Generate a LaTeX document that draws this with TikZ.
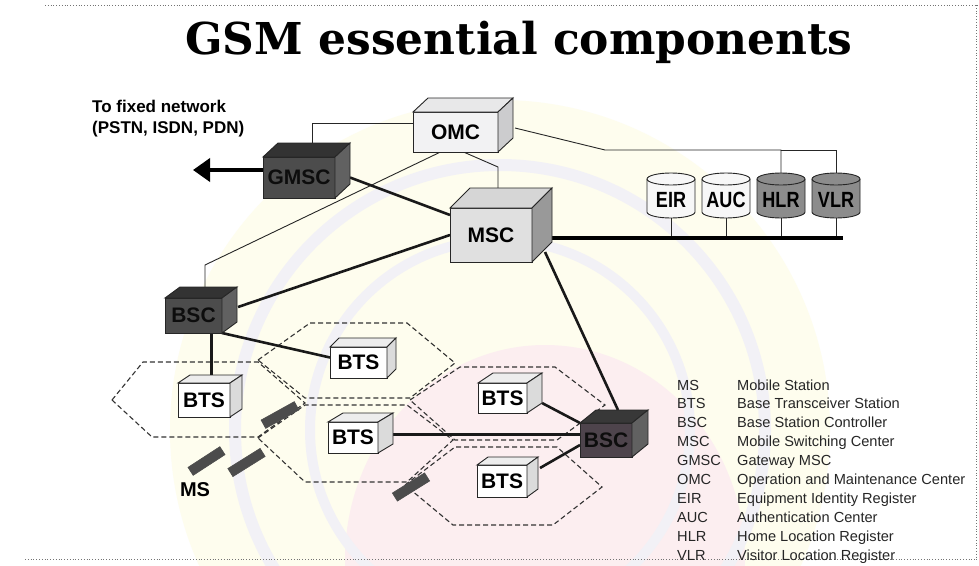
\documentclass[tikz,border=0pt]{standalone}
\usepackage{fontspec}
\setmainfont{Liberation Sans}
\newfontfamily\titlefont{DejaVu Serif}
\usetikzlibrary{arrows.meta}
\pgfdeclarelayer{wm}
\pgfdeclarelayer{bg}
\pgfsetlayers{wm,bg,main}
\definecolor{wmyellow}{HTML}{FEFDEE}
\definecolor{wmpink}{HTML}{FCEEF0}
\definecolor{wmring}{HTML}{F2F1F6}
\definecolor{bscrfill}{HTML}{4E444C}
\tikzset{
  box/.style={draw=black!85, line width=0.9pt, inner sep=0pt, outer sep=0pt,
    font=\bfseries\fontsize{21}{21}\selectfont},
  lite front/.style={fill=white},
  lite top/.style={fill=black!7},
  lite side/.style={fill=black!14},
  omcs front/.style={fill=blue!3!black!5},
  omcs top/.style={fill=blue!3!black!9},
  omcs side/.style={fill=blue!3!black!20},
  mscs front/.style={fill=black!12},
  mscs top/.style={fill=black!16},
  mscs side/.style={fill=black!40},
  dark front/.style={fill=black!70, text=black!95},
  dark top/.style={fill=black!80},
  dark side/.style={fill=black!62},
  purp front/.style={fill=bscrfill, text=black!95},
  purp top/.style={fill=black!78},
  purp side/.style={fill=black!62},
  cyl/.style={draw=black!85, line width=0.9pt},
  cyllite/.style={fill=black!3},
  cyldark/.style={fill=black!45},
  thinlink/.style={draw=black!85, line width=0.9pt},
  thicklink/.style={draw=black!90, line width=2.6pt},
  buslink/.style={draw=black, line width=3.6pt},
  hexcell/.style={draw=black!80, line width=1.1pt, dash pattern=on 5pt off 3pt},
  phone/.style={draw=black!70, fill=black!70, line width=0.6pt, minimum width=38, minimum height=9.5, inner sep=0pt},
  legend/.style={anchor=base west, font=\fontsize{14.6}{15}\selectfont, inner sep=0pt, text=black!85},
}
\newcommand\boxthreed[9]{%
  \node[box, #8 front, minimum width=#4, minimum height=#5] (#1) at (#2,#3) {#9};
  \draw[box, #8 top] (#1.north west) -- ++(#6,-#7) -- ++(#4,0) -- (#1.north east) -- cycle;
  \draw[box, #8 side] (#1.north east) -- ++(#6,-#7) -- ++(0,#5) -- (#1.south east) -- cycle;
}
\newcommand\dbcyl[4]{%
  \node[minimum width=48, minimum height=45, inner sep=0pt, outer sep=0pt] (#1) at (#2,195.5) {};
  \draw[cyl, #3] (#2-24,179) -- (#2-24,212) arc[start angle=180, end angle=0, x radius=24, y radius=6]
     -- (#2+24,179) arc[start angle=0, end angle=-180, x radius=24, y radius=6] -- cycle;
  \draw[cyl] (#2-24,179) arc[start angle=180, end angle=0, x radius=24, y radius=6];
  \node[font=\bfseries\fontsize{22}{22}\selectfont, inner sep=0pt] (#1lbl) at (#2,200) {\scalebox{0.82}[1]{#4}};
}
\begin{document}
\begin{tikzpicture}[x=1pt, y=-1pt]
\useasboundingbox (0,0) rectangle (979,565);

% watermark
\begin{pgfonlayer}{wm}
\fill[white] (0,0) rectangle (979,565);
\begin{scope}
\clip (0,0) rectangle (979,565);
\fill[wmyellow] (500,430) circle (330);
\fill[wmpink] (545,560) ellipse (200 and 215);
\draw[wmring, line width=12pt] (500,430) circle (265);
\draw[wmring, line width=10pt] (500,430) circle (190);
\end{scope}
\end{pgfonlayer}

% borders
\draw[black!55, line width=0.8pt, dotted] (45,5) -- (979,5);
\draw[black!55, line width=0.8pt, dotted] (976,5) -- (976,562);
\draw[black!55, line width=0.8pt, dotted] (25,559) -- (976,559);

% title
\node[anchor=base, inner sep=0pt] (title) at (519,54)
  {\resizebox{667pt}{!}{\titlefont\bfseries\fontsize{40}{40}\selectfont GSM essential components}};

% fixed network text
\node[anchor=base west, inner sep=0pt, align=left, font=\bfseries\fontsize{17}{21}\selectfont] (fixed) at (92,133)
  {To fixed network\\(PSTN, ISDN, PDN)};

% boxes
\boxthreed{omc}{455.5}{132}{85}{40}{15}{14}{omcs}{OMC}
\boxthreed{gmsc}{299}{177.5}{72}{41}{15}{14}{dark}{GMSC}
\boxthreed{msc}{491}{235}{82}{54}{20}{20}{mscs}{MSC}
\boxthreed{bscl}{193.5}{315.5}{57}{35}{15}{11}{dark}{BSC}
\boxthreed{bscr}{606}{440}{52}{34}{16}{13}{purp}{BSC}
\boxthreed{btsa}{204}{400}{52}{34}{12}{8}{lite}{BTS}
\boxthreed{btsb}{358.5}{362.5}{57}{31}{9}{9}{lite}{BTS}
\boxthreed{btsc}{353}{437.5}{50}{31}{15}{9}{lite}{BTS}
\boxthreed{btsd}{502.5}{398}{49}{30}{15}{10}{lite}{BTS}
\boxthreed{btse}{502}{481}{50}{32}{11}{8}{lite}{BTS}

% databases
\dbcyl{eir}{671}{cyllite}{EIR}
\dbcyl{auc}{726}{cyllite}{AUC}
\dbcyl{hlr}{781}{cyldark}{HLR}
\dbcyl{vlr}{836}{cyldark}{VLR}

% mobile stations
\node[phone, rotate=33] (ms1) at (206.5,461) {};
\node[phone, rotate=32] (ms2) at (246.5,462.5) {};
\node[phone, rotate=29] (ms3) at (280,415) {};
\node[phone, rotate=32] (ms4) at (411,487) {};
\node[font=\bfseries\fontsize{20}{20}\selectfont, inner sep=0pt] (mslbl) at (195,490) {MS};

\coordinate (fixtip) at (193,170);
\coordinate (dbk) at (605,150);
\coordinate (omcmsck) at (498,167);
\coordinate (omcbsck) at (205,265);
\coordinate (busend) at (843,238);

\begin{pgfonlayer}{bg}
% cells
\draw[hexcell] (112,400) -- (143,362) -- (258,362) -- (305,403) -- (258,437) -- (152,437) -- cycle;
\draw[hexcell] (258,360) -- (310,323) -- (407,323) -- (455,363) -- (410,398) -- (305,398) -- cycle;
\draw[hexcell] (258,438) -- (305,405) -- (407,405) -- (453,440) -- (407,482) -- (305,482) -- cycle;
\draw[hexcell] (410,400) -- (460,367) -- (555,367) -- (605,405) -- (557,440) -- (455,440) -- cycle;
\draw[hexcell] (405,485) -- (455,447) -- (557,447) -- (602,487) -- (553,525) -- (453,525) -- cycle;
% thin links
\draw[thinlink] ([yshift=9pt]omc.west) -| ([xshift=13pt,yshift=7pt]gmsc.north);
\draw[thinlink] ([xshift=8pt]omc.south) -- (omcmsck) -- ([xshift=7pt,yshift=11pt]msc.north);
\draw[thinlink] ([xshift=-15pt]omc.south) -- (omcbsck) -- ([xshift=11.5pt,yshift=6pt]bscl.north);
\draw[thinlink] ([xshift=17pt,yshift=4pt]omc.east) -- (dbk) -| (hlr.north);
\draw[thinlink] (hlr.north |- dbk) -| (vlr.north);
\draw[thinlink] (eir.south) -- (eir.south |- busend);
\draw[thinlink] (auc.south) -- (auc.south |- busend);
\draw[thinlink] (hlr.south) -- (hlr.south |- busend);
\draw[thinlink] (vlr.south) -- (vlr.south |- busend);
% thick links
\draw[buslink] ([xshift=20pt]msc.east |- busend) -- (busend);
\draw[draw=black, line width=3.8pt, -{Triangle[length=17pt,width=23pt]}] (gmsc.west |- fixtip) -- (fixtip);
\draw[thicklink] ([xshift=15pt]gmsc.east) -- ([yshift=20pt]msc.west);
\draw[thicklink] ([xshift=16pt,yshift=8.5pt]bscl.east) -- (msc.west);
\draw[thicklink] ([xshift=13pt,yshift=10pt]msc.south east) -- ([xshift=12pt,yshift=13pt]bscr.north);
\draw[thicklink] ([xshift=18pt]bscl.south) -- ([xshift=18pt]bscl.south |- btsa.north);
\draw[thicklink] (bscl.south east) -- ([yshift=5pt]btsb.west);
\draw[thicklink] ([yshift=3pt]btsc.east) -- ([yshift=3pt]btsc.east -| bscr.west);
\draw[thicklink] ([xshift=15pt,yshift=-5pt]btsd.east) -- (bscr.north west);
\draw[thicklink] ([xshift=13pt,yshift=13pt]btse.east) -- ([yshift=-5pt]bscr.west);
\end{pgfonlayer}

% legend
\foreach \ab/\de [count=\i from 0] in {MS/Mobile Station, BTS/Base Transceiver Station, BSC/Base Station Controller,
  MSC/Mobile Switching Center, GMSC/Gateway MSC, OMC/Operation and Maintenance Center,
  EIR/Equipment Identity Register, AUC/Authentication Center, HLR/Home Location Register,
  VLR/Visitor Location Register}{
  \node[legend] (lab\i) at (677,390+18.9*\i) {\ab};
  \node[legend] (ldesc\i) at (737,390+18.9*\i) {\de};
}
\end{tikzpicture}
\end{document}
